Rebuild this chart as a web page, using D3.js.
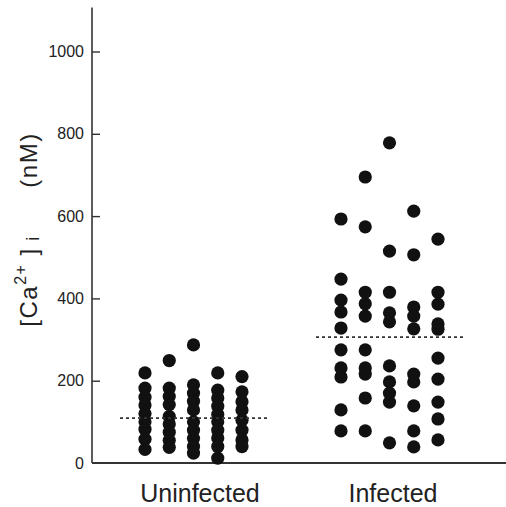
<!DOCTYPE html>
<html>
<head>
<meta charset="utf-8">
<script src="https://cdn.jsdelivr.net/npm/d3@7"></script>
<style>
  body { margin: 0; background: #fff; }
  text { font-family: "Liberation Sans", Arial, Helvetica, sans-serif; fill: #222; }
</style>
</head>
<body>
<div id="chart"></div>
<script>
var width = 506, // chart width
    height = 507; // chart height

// groups on the x axis
var groups = ["Uninfected", "Infected"];

// [Ca2+]i values (nM), one array per column of dots
var uninfected = [
  [219, 182, 160, 141, 120, 100, 82, 58, 33],
  [249, 182, 162, 142, 113, 95, 75, 55, 38],
  [287, 190, 170, 150, 129, 100, 80, 60, 40, 24],
  [219, 177, 158, 138, 118, 100, 80, 61, 40, 12],
  [210, 173, 149, 129, 104, 80, 56, 40]
];
var infected = [
  [593, 447, 396, 367, 328, 275, 231, 209, 129, 78],
  [695, 574, 415, 387, 357, 275, 231, 216, 158, 78],
  [778, 515, 415, 365, 343, 236, 197, 170, 148, 49],
  [612, 506, 379, 357, 326, 216, 197, 139, 78, 39],
  [544, 415, 386, 338, 325, 255, 204, 148, 107, 56]
];

// mean values (dotted lines)
var means = [109, 306];

// y tick values
var yTicks = [0, 200, 400, 600, 800, 1000];

var svg = d3.select('#chart')
    .append('svg')
    .attr('width', width)
    .attr('height', height);

var y = d3.scaleLinear()
    .domain([0, 1000])
    .range([463, 51.5]);

var x = d3.scalePoint()
    .domain(groups)
    .range([194, 390]);

// column offset inside a group
var col = d3.scalePoint()
    .domain(d3.range(5))
    .range([-49, 48]);

var axisX = 92;

// y axis line + inward ticks
svg.append('line')
    .attr('x1', axisX).attr('x2', axisX)
    .attr('y1', y(0)).attr('y2', y(1107))
    .attr('stroke', '#333').attr('stroke-width', 1.6);

var yAxis = svg.append('g')
    .attr('transform', 'translate(' + axisX + ',0)')
    .call(d3.axisLeft(y)
      .tickValues(yTicks)
      .tickFormat(d3.format('d'))
      .tickSizeInner(-8)
      .tickSizeOuter(0)
      .tickPadding(8));

yAxis.select('.domain').remove();
yAxis.selectAll('.tick line')
    .attr('stroke', '#333').attr('stroke-width', 1.4)
    .filter(function(d){ return d === 0; }).remove();
yAxis.selectAll('.tick text')
    .attr('font-size', 16)
    .attr('fill', '#333')
    .style('font-family', '"Liberation Sans", Arial, sans-serif');

// x axis line
svg.append('line')
    .attr('x1', axisX).attr('x2', width)
    .attr('y1', y(0)).attr('y2', y(0))
    .attr('stroke', '#333').attr('stroke-width', 1.8);

// group labels
svg.selectAll('.glabel')
    .data(groups)
    .enter()
    .append('text')
    .attr('class', 'glabel')
    .attr('x', function(d){ return x(d) + (d === "Uninfected" ? 6 : 3) })
    .attr('y', 502)
    .attr('text-anchor', 'middle')
    .attr('font-size', 25)
    .text(function(d){ return d });

// flatten the columns into points
var points = [];
[uninfected, infected].forEach(function(cols, g){
  cols.forEach(function(vals, c){
    vals.forEach(function(v){
      points.push({group: groups[g], col: c, value: v});
    });
  });
});

svg.selectAll('circle')
    .data(points)
    .enter()
    .append('circle')
    .attr('cx', function(d){ return x(d.group) + col(d.col) })
    .attr('cy', function(d){ return y(d.value) })
    .attr('r', 6.6)
    .attr('fill', '#111');

// dotted mean lines
svg.selectAll('.mean')
    .data(means)
    .enter()
    .append('line')
    .attr('class', 'mean')
    .attr('x1', function(d, i){ return x(groups[i]) - 74 })
    .attr('x2', function(d, i){ return x(groups[i]) + 74 })
    .attr('y1', function(d){ return y(d) })
    .attr('y2', function(d){ return y(d) })
    .attr('stroke', '#333')
    .attr('stroke-width', 1.6)
    .attr('stroke-dasharray', '3,3');

// y axis title
var t1 = svg.append('text')
    .attr('transform', 'translate(37,281) rotate(-90)')
    .attr('text-anchor', 'middle')
    .attr('font-size', 24)
    .attr('letter-spacing', 1.5);
t1.append('tspan').text('[Ca');
t1.append('tspan').attr('font-size', 16).attr('dy', -11).text('2+');
t1.append('tspan').attr('dy', 11).text(' ]');
t1.append('tspan').attr('font-size', 18).attr('dy', 2).text(' i');

svg.append('text')
    .attr('transform', 'translate(37,160) rotate(-90)')
    .attr('text-anchor', 'middle')
    .attr('font-size', 24)
    .attr('letter-spacing', 1.5)
    .text('(nM)');
</script>
</body>
</html>
